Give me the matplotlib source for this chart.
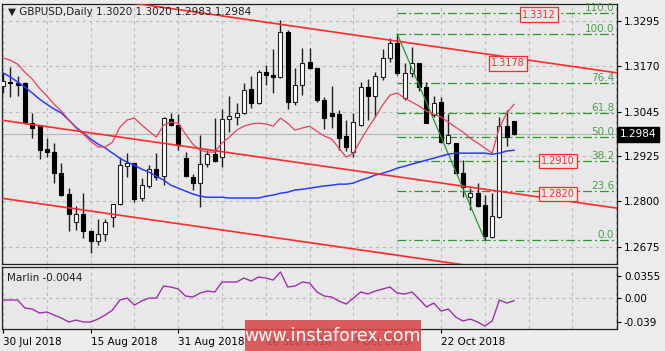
import matplotlib
matplotlib.use("Agg")
import matplotlib.pyplot as plt
from matplotlib.patches import Rectangle
import numpy as np

# ---------------- data ----------------
opens = [1.3116, 1.3128, 1.3123, 1.3123, 1.3014, 1.3009, 1.2943, 1.2935, 1.2877, 1.2819,
         1.2743, 1.2765, 1.2718, 1.2691, 1.2710, 1.2757, 1.2792, 1.2896, 1.2904, 1.2808,
         1.2841, 1.2888, 1.2869, 1.3025, 1.3009, 1.2918, 1.2866, 1.2850, 1.2902, 1.2929,
         1.2921, 1.3025, 1.3031, 1.3042, 1.3108, 1.3069, 1.3154, 1.3146, 1.3140, 1.3264,
         1.3072, 1.3119, 1.3182, 1.3165, 1.3077, 1.3042, 1.3039, 1.2979, 1.2935, 1.3009,
         1.3113, 1.3088, 1.3140, 1.3193, 1.3234, 1.3083, 1.3152, 1.3179, 1.3113, 1.3036,
         1.3072, 1.2960, 1.2960, 1.2877, 1.2811, 1.2822, 1.2790, 1.2702, 1.2757, 1.3006,
         1.3020]
highs = [1.3152, 1.3168, 1.3143, 1.3128, 1.3042, 1.3010, 1.2973, 1.2960, 1.2905, 1.2836,
         1.2787, 1.2822, 1.2720, 1.2751, 1.2751, 1.2792, 1.2921, 1.2932, 1.2905, 1.2863,
         1.2899, 1.2932, 1.3031, 1.3042, 1.3039, 1.2935, 1.2874, 1.2981, 1.2940, 1.3028,
         1.3053, 1.3088, 1.3069, 1.3124, 1.3143, 1.3160, 1.3173, 1.3217, 1.3297, 1.3270,
         1.3165, 1.3220, 1.3220, 1.3166, 1.3086, 1.3116, 1.3050, 1.3023, 1.3042, 1.3127,
         1.3135, 1.3154, 1.3217, 1.3248, 1.3259, 1.3179, 1.3223, 1.3179, 1.3127, 1.3088,
         1.3086, 1.3039, 1.2960, 1.2913, 1.2836, 1.2850, 1.2817, 1.2822, 1.3031, 1.3050,
         1.3020]
lows = [1.3097, 1.3086, 1.3088, 1.3012, 1.2973, 1.2915, 1.2921, 1.2850, 1.2815, 1.2718,
        1.2721, 1.2699, 1.2658, 1.2680, 1.2691, 1.2729, 1.2790, 1.2866, 1.2797, 1.2800,
        1.2836, 1.2858, 1.2844, 1.3007, 1.2940, 1.2866, 1.2831, 1.2784, 1.2894, 1.2908,
        1.2894, 1.2990, 1.3009, 1.3040, 1.3055, 1.3066, 1.3119, 1.3097, 1.3139, 1.3053,
        1.3064, 1.3091, 1.3163, 1.3072, 1.2998, 1.3001, 1.2940, 1.2937, 1.2921, 1.3007,
        1.3023, 1.3031, 1.3132, 1.3182, 1.3146, 1.3077, 1.3140, 1.3102, 1.3014, 1.3031,
        1.2960, 1.2957, 1.2874, 1.2811, 1.2776, 1.2784, 1.2694, 1.2699, 1.2754, 1.2951,
        1.2983]
closes = [1.3130, 1.3124, 1.3120, 1.3014, 1.3000, 1.2940, 1.2935, 1.2877, 1.2817, 1.2765,
          1.2765, 1.2718, 1.2691, 1.2710, 1.2743, 1.2792, 1.2899, 1.2904, 1.2806, 1.2844,
          1.2888, 1.2866, 1.3028, 1.3009, 1.2954, 1.2869, 1.2850, 1.2902, 1.2929, 1.2910,
          1.3025, 1.3034, 1.3042, 1.3105, 1.3069, 1.3154, 1.3146, 1.3140, 1.3264, 1.3072,
          1.3119, 1.3179, 1.3165, 1.3077, 1.3028, 1.3034, 1.2973, 1.2948, 1.3017, 1.3113,
          1.3088, 1.3143, 1.3193, 1.3234, 1.3152, 1.3152, 1.3179, 1.3113, 1.3014, 1.3069,
          1.2962, 1.2981, 1.2877, 1.2839, 1.2822, 1.2787, 1.2705, 1.2759, 1.3006, 1.2976,
          1.2984]

ma_fast = [1.3193, 1.3187, 1.3176, 1.3154, 1.3135, 1.3110, 1.3089, 1.3066, 1.3047, 1.3023,
           1.3001, 1.2984, 1.2965, 1.2949, 1.2949, 1.2962, 1.3003, 1.3023, 1.3028, 1.3009,
           1.2992, 1.2976, 1.3009, 1.3017, 1.3014, 1.2984, 1.2957, 1.2940, 1.2935, 1.2935,
           1.2960, 1.2976, 1.2995, 1.3006, 1.3012, 1.3014, 1.3012, 1.3006, 1.3028, 1.3014,
           1.2995, 1.3001, 1.3006, 1.2992, 1.2979, 1.2971, 1.2946, 1.2921, 1.2932, 1.2968,
           1.3001, 1.3031, 1.3064, 1.3091, 1.3097, 1.3083, 1.3072, 1.3061, 1.3047, 1.3039,
           1.3031, 1.3017, 1.3003, 1.2990, 1.2973, 1.2960, 1.2946, 1.2932, 1.3003, 1.3042,
           1.3066]
ma_slow = [1.3152, 1.3141, 1.3127, 1.3113, 1.3097, 1.3080, 1.3066, 1.3053, 1.3042, 1.3023,
           1.3003, 1.2987, 1.2971, 1.2957, 1.2946, 1.2932, 1.2918, 1.2907, 1.2899, 1.2888,
           1.2880, 1.2869, 1.2858, 1.2844, 1.2836, 1.2828, 1.2820, 1.2814, 1.2811, 1.2811,
           1.2811, 1.2809, 1.2809, 1.2809, 1.2809, 1.2809, 1.2814, 1.2817, 1.2822, 1.2825,
           1.2831, 1.2833, 1.2836, 1.2839, 1.2842, 1.2844, 1.2847, 1.2847, 1.2850, 1.2858,
           1.2864, 1.2872, 1.2877, 1.2883, 1.2891, 1.2896, 1.2902, 1.2907, 1.2913, 1.2918,
           1.2924, 1.2929, 1.2932, 1.2932, 1.2932, 1.2932, 1.2932, 1.2929, 1.2932, 1.2938,
           1.2940]
marlin = [-0.0034, -0.0034, -0.0034, -0.0164, -0.0180, -0.0245, -0.0228, -0.0277, -0.0326, -0.0390,
          -0.0358, -0.0390, -0.0390, -0.0342, -0.0277, -0.0196, -0.0034, -0.0002, -0.0115, -0.0050,
          -0.0002, -0.0002, 0.0193, 0.0177, 0.0144, 0.0031, 0.0015, 0.0079, 0.0112, 0.0096,
          0.0258, 0.0258, 0.0258, 0.0322, 0.0274, 0.0339, 0.0322, 0.0290, 0.0420, 0.0177,
          0.0193, 0.0258, 0.0241, 0.0096, 0.0031, 0.0015, -0.0050, -0.0099, -0.0002, 0.0096,
          0.0063, 0.0112, 0.0144, 0.0177, 0.0079, 0.0063, 0.0096, -0.0018, -0.0147, -0.0083,
          -0.0212, -0.0180, -0.0309, -0.0374, -0.0342, -0.0390, -0.0454, -0.0374, -0.0034, -0.0083,
          -0.0044]

# trend channel lines: (bar, price) end points
channel_upper = [(0.0, 1.3395), (84.5, 1.3151)]
channel_mid = [(-0.4, 1.3023), (84.5, 1.2780)]
channel_low = [(-0.4, 1.2809), (84.5, 1.2564)]

# Fibonacci retracement
fib_start_bar, fib_high = 54, 1.3259
fib_end_bar, fib_low = 66, 1.2694
fib_ratios = [1.10, 1.00, 0.764, 0.618, 0.50, 0.382, 0.236, 0.0]
fib_names = ["110.0", "100.0", "76.4", "61.8", "50.0", "38.2", "23.6", "0.0"]

# price label objects
label_prices = [1.3312, 1.3178, 1.2910, 1.2820]
label_bars = [73.4, 69.2, 76.0, 76.0]

price_ticks = [1.3295, 1.3170, 1.3045, 1.2925, 1.2800, 1.2675]
marlin_ticks = [0.0355, 0.0, -0.039]
marlin_tick_labels = ["0.0355", "0.00", "-0.039"]
date_bars = [0, 12, 24, 36, 48, 60]
date_labels = ["30 Jul 2018", "15 Aug 2018", "31 Aug 2018", "16 Sep 2018", "4 Oct 2018", "22 Oct 2018"]

symbol_title = "\u25BC GBPUSD,Daily 1.3020 1.3020 1.2983 1.2984"
last_price = 1.2984
marlin_title = "Marlin -0.0044"

# ---------------- drawing ----------------
FIG_BG = "#ececec"
AX_BG = "#e8e8e8"
GRID = "#bdbdbd"
FS = 7.5
plt.rcParams["font.family"] = ["DejaVu Sans"]

W, H = 665, 351
fig = plt.figure(figsize=(W / 100, H / 100), dpi=100, facecolor=FIG_BG)
ax = fig.add_axes([2 / W, 1 - 264 / H, 615 / W, 260 / H], facecolor=AX_BG)
ax2 = fig.add_axes([2 / W, 1 - 329 / H, 615 / W, 62 / H], facecolor=AX_BG)

xmin, xmax = -0.14, 84.1
n = len(opens)
x = np.arange(n)

# main panel
ax.set_xlim(xmin, xmax)
ax.set_ylim(1.2628, 1.3341)
ax.set_xticks(np.arange(0, 85, 6))
ax.tick_params(axis="x", length=0, labelbottom=False)
ax.yaxis.tick_right()
ax.set_yticks(price_ticks)
ax.set_yticklabels([f"{p:.4f}" for p in price_ticks])
ax.tick_params(axis="y", length=3, width=0.8, labelsize=FS, pad=2, colors="black")
ax.grid(True, color=GRID, linestyle=(0, (3, 3)), linewidth=0.8, zorder=0)
ax.set_axisbelow(True)
for s in ax.spines.values():
    s.set_color("#202020")
    s.set_linewidth(0.9)

# bid line
ax.axhline(last_price, color="#b4b4b4", lw=0.8, zorder=1)

# fibo
fib_lines = [fib_low + r * (fib_high - fib_low) for r in fib_ratios]
fib_right = 83.7
ax.hlines(fib_lines, fib_start_bar, fib_right, colors="#2a9a2a", lw=0.9,
          linestyles=[(0, (7, 2.5, 1.5, 2.5))], zorder=1.5)
for lv, nm in zip(fib_lines, fib_names):
    ax.text(fib_right, lv, nm, color="#4aa04a", fontsize=FS, ha="right", va="bottom", zorder=6)
ax.plot([fib_start_bar, fib_end_bar], [fib_high, fib_low], color="#2a9a2a", lw=0.9, zorder=4)

# candles
o = np.array(opens); c = np.array(closes); h = np.array(highs); l = np.array(lows)
up = c >= o
ax.vlines(x, l, h, color="#202020", lw=1.0, zorder=2)
bottoms = np.minimum(o, c)
heights = np.maximum(np.abs(c - o), 0.00005)
ax.bar(x[up], heights[up], bottom=bottoms[up], width=0.55, color="white",
       edgecolor="#202020", linewidth=0.8, zorder=3)
ax.bar(x[~up], heights[~up], bottom=bottoms[~up], width=0.55, color="black",
       edgecolor="black", linewidth=0.8, zorder=3)

# moving averages
ax.plot(x, ma_slow, color="#2f3cff", lw=1.1, zorder=4)
ax.plot(x, ma_fast, color="#e8405a", lw=0.9, zorder=4)

# channel lines
for line in (channel_upper, channel_mid, channel_low):
    xs, ys = zip(*line)
    ax.plot(xs, ys, color="#ff2a2a", lw=1.2, zorder=4.5, solid_capstyle="butt")

# price labels
for b, p in zip(label_bars, label_prices):
    ax.text(b, p, f"{p:.4f}", color="#ff2a2a", fontsize=7, ha="center", va="center", zorder=7,
            bbox=dict(boxstyle="square,pad=0.22", facecolor=AX_BG, edgecolor="#ff2a2a", lw=0.9))

# last price box
ax.text(1.004, last_price, f"{last_price:.4f}", transform=ax.get_yaxis_transform(),
        color="white", fontsize=FS, ha="left", va="center", clip_on=False, zorder=8,
        bbox=dict(boxstyle="square,pad=0.25", facecolor="black", edgecolor="black"))

fig.text(8 / W, 1 - 12 / H, symbol_title, fontsize=FS, color="#202020", va="center", ha="left")

# indicator panel
ax2.set_xlim(xmin, xmax)
ax2.set_ylim(-0.0503, 0.0501)
ax2.plot(x, marlin, color="#a030b0", lw=1.0, zorder=3)
ax2.axhline(0, color=GRID, linestyle=(0, (3, 3)), lw=0.8, zorder=1)
ax2.set_xticks(np.arange(0, 85, 6), minor=True)
ax2.grid(True, which="minor", axis="x", color=GRID, linestyle=(0, (3, 3)), linewidth=0.8)
ax2.set_xticks(date_bars)
ax2.set_xticklabels(date_labels)
for t in ax2.get_xticklabels():
    t.set_horizontalalignment("left")
ax2.tick_params(axis="x", which="major", length=3, width=0.8, labelsize=FS, pad=3)
ax2.tick_params(axis="x", which="minor", length=0)
ax2.grid(True, which="major", axis="x", color=GRID, linestyle=(0, (3, 3)), linewidth=0.8)
ax2.yaxis.tick_right()
ax2.set_yticks(marlin_ticks)
ax2.set_yticklabels(marlin_tick_labels)
ax2.tick_params(axis="y", length=3, width=0.8, labelsize=FS, pad=2)
ax2.set_axisbelow(True)
for s in ax2.spines.values():
    s.set_color("#202020")
    s.set_linewidth(0.9)
fig.text(7 / W, 1 - 278 / H, marlin_title, fontsize=FS, color="#202020", va="center", ha="left")

# watermark
fig.patches.append(Rectangle((245 / W, 0), 176 / W, 31 / H, transform=fig.transFigure,
                             facecolor="#d94848", alpha=0.88, edgecolor="none", zorder=10))
fig.text(333 / W, 1 - 336 / H, "www.instaforex.com", color="white", fontsize=12.5,
         ha="center", va="center", zorder=11)

fig.savefig("out.png", dpi=100, facecolor=FIG_BG)
